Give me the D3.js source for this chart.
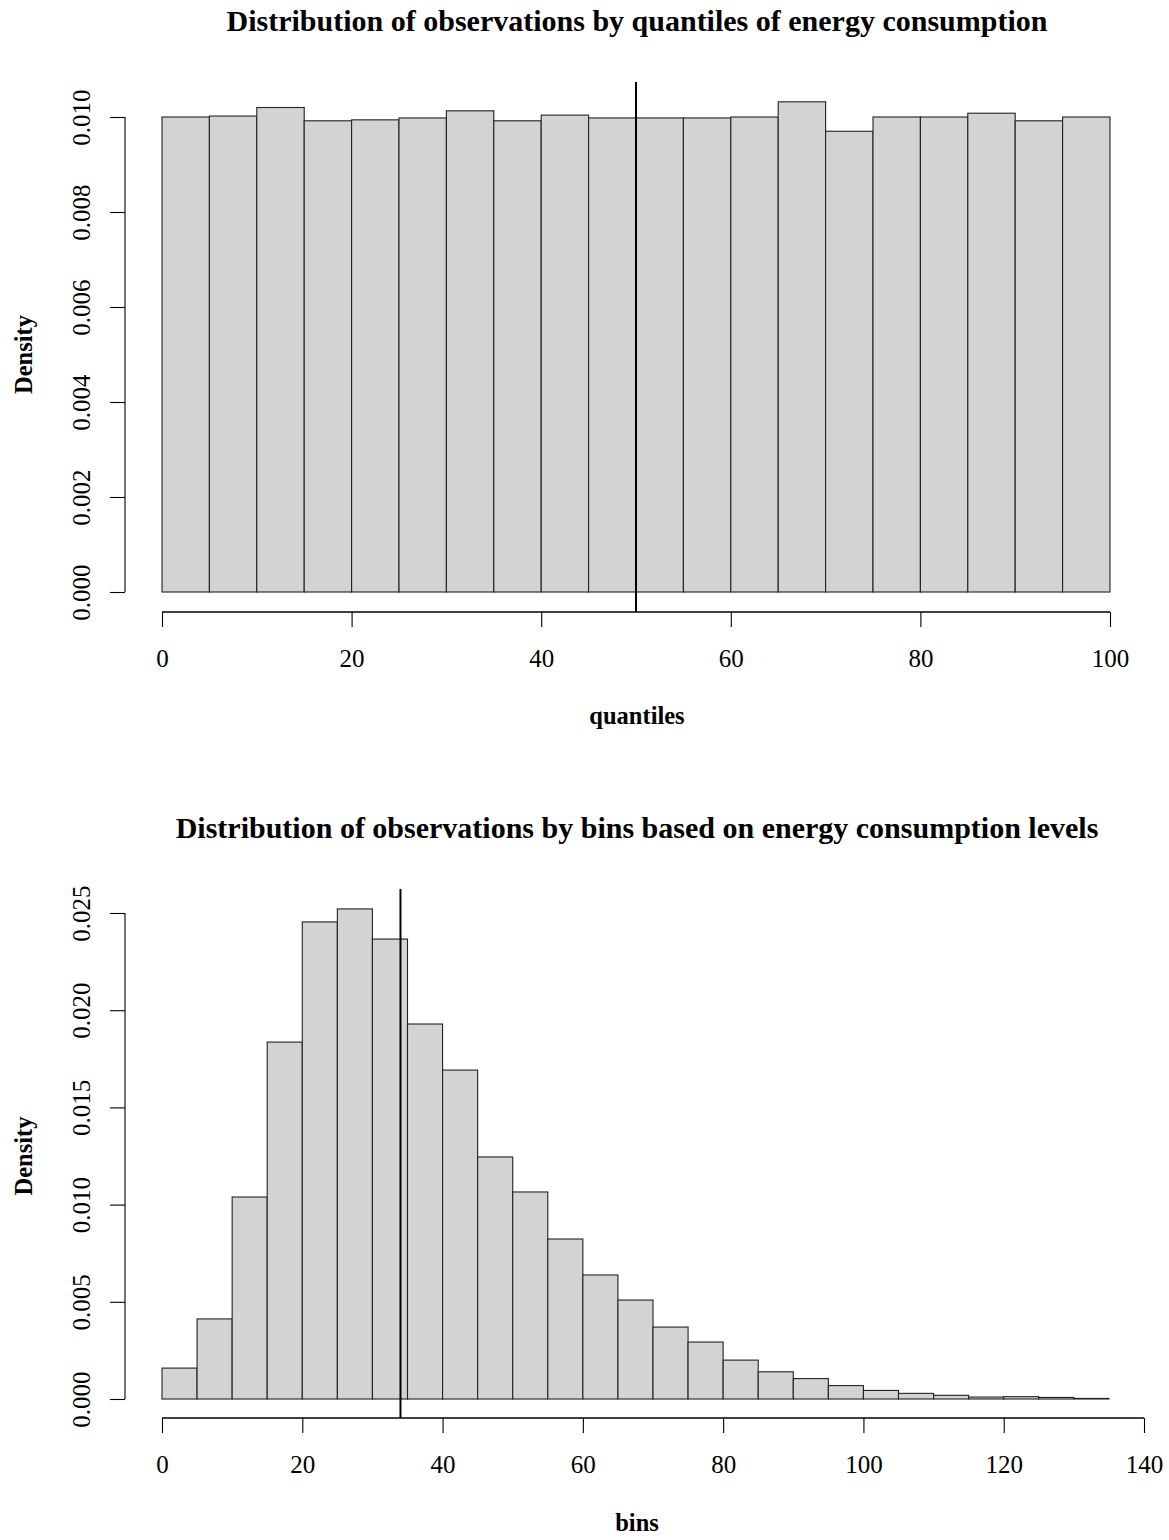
<!DOCTYPE html>
<html>
<head>
<meta charset="utf-8">
<script src="https://cdn.jsdelivr.net/npm/d3@7"></script>
<style>
  body { margin: 0; background: #fff; }
  svg { display: block; }
  text { font-family: "Liberation Serif", "Times New Roman", serif; fill: #000; }
</style>
</head>
<body>
<svg id="chart" width="1169" height="1540"></svg>
<script>
// ---------- Data ----------
const quantileBreaks = [0,5,10,15,20,25,30,35,40,45,50,55,60,65,70,75,80,85,90,95,100];
const quantileDensity = [0.01000,0.01002,0.01020,0.00992,0.00994,0.00998,0.01013,0.00992,0.01004,0.00998,
                         0.00998,0.00998,0.01000,0.01032,0.00970,0.01000,0.01000,0.01008,0.00992,0.01000];
const quantileMarker = 50;
const quantileXTicks = [0,20,40,60,80,100];
const quantileYTicks = [0.000,0.002,0.004,0.006,0.008,0.010];

const binBreaks = [0,5,10,15,20,25,30,35,40,45,50,55,60,65,70,75,80,85,90,95,100,105,110,115,120,125,130,135];
const binDensity = [0.00159,0.00412,0.01039,0.01836,0.02454,0.02521,0.02366,0.01929,0.01692,0.01245,
                    0.01065,0.00823,0.00638,0.00509,0.00370,0.00293,0.00200,0.00140,0.00105,0.00069,
                    0.00044,0.00029,0.00019,0.00010,0.00012,0.00008,0.00003];
const binMarker = 34;
const binXTicks = [0,20,40,60,80,100,120,140];
const binYTicks = [0.000,0.005,0.010,0.015,0.020,0.025];

const svg = d3.select("#chart");
const FONT = '"Liberation Serif", "Times New Roman", serif';

function panel(cfg) {
  const g = svg.append("g");
  const x = d3.scaleLinear().domain(cfg.xDomain).range([162, cfg.xRight]);
  const y = d3.scaleLinear().domain(cfg.yDomain).range([cfg.yBottom, cfg.yTop]);

  const bars = cfg.density.map((d, i) => ({x0: cfg.breaks[i], x1: cfg.breaks[i+1], d}));
  g.selectAll("rect.bar").data(bars).join("rect")
    .attr("class", "bar")
    .attr("x", b => x(b.x0))
    .attr("width", b => x(b.x1) - x(b.x0))
    .attr("y", b => y(b.d))
    .attr("height", b => y(0) - y(b.d))
    .attr("fill", "#d3d3d3")
    .attr("stroke", "#222")
    .attr("stroke-width", 1.1);

  // x axis (R style: detached below)
  const xAxisY = cfg.xAxisY;
  const xa = g.append("g").attr("transform", `translate(0,${xAxisY})`)
    .call(d3.axisBottom(x).tickValues(cfg.xTicks).tickSize(15).tickSizeOuter(0).tickFormat(d3.format("d")));
  xa.select(".domain").attr("stroke", "#000").attr("stroke-width", 1.6)
    .attr("d", `M${x(cfg.xTicks[0])},0H${x(cfg.xTicks[cfg.xTicks.length-1])}`);
  xa.selectAll(".tick line").attr("stroke", "#000").attr("stroke-width", 1.1);
  xa.selectAll(".tick text").attr("font-size", 25).attr("font-family", FONT).attr("fill", "#000")
    .attr("y", 55).attr("dy", null);

  // y axis
  const ya = g.append("g").attr("transform", `translate(125,0)`)
    .call(d3.axisLeft(y).tickValues(cfg.yTicks).tickSize(15).tickSizeOuter(0).tickFormat(d3.format(".3f")));
  ya.select(".domain").attr("stroke", "#000").attr("stroke-width", 1.1)
    .attr("d", `M0,${y(cfg.yTicks[0])}V${y(cfg.yTicks[cfg.yTicks.length-1])}`);
  ya.selectAll(".tick line").attr("stroke", "#000").attr("stroke-width", 1.1);
  ya.selectAll(".tick text")
    .attr("font-size", 25).attr("font-family", FONT).attr("fill", "#000")
    .attr("x", null).attr("dy", null)
    .attr("text-anchor", "middle")
    .attr("transform", "translate(-35,0) rotate(-90)");

  // marker line
  g.append("line")
    .attr("x1", x(cfg.marker)).attr("x2", x(cfg.marker))
    .attr("y1", cfg.markerTop).attr("y2", xAxisY)
    .attr("stroke", "#000").attr("stroke-width", 2);

  // title
  g.append("text").attr("x", 637).attr("y", cfg.titleY)
    .attr("text-anchor", "middle").attr("font-size", 30).attr("font-weight", "bold")
    .text(cfg.title);
  // x label
  g.append("text").attr("x", 637).attr("y", cfg.xLabelY)
    .attr("text-anchor", "middle").attr("font-size", 24.5).attr("font-weight", "bold")
    .text(cfg.xLabel);
  // y label
  g.append("text")
    .attr("transform", `translate(32,${(cfg.yTop + cfg.yBottom)/2}) rotate(-90)`)
    .attr("text-anchor", "middle").attr("font-size", 24.5).attr("font-weight", "bold")
    .text("Density");
}

panel({
  breaks: quantileBreaks, density: quantileDensity, marker: quantileMarker,
  xDomain: [0, 100], xRight: 1110, xTicks: quantileXTicks,
  yDomain: [0, 0.010], yBottom: 592, yTop: 117, yTicks: quantileYTicks,
  xAxisY: 612, markerTop: 82,
  title: "Distribution of observations by quantiles of energy consumption", titleY: 31,
  xLabelY: 724, xLabel: "quantiles"
});

panel({
  breaks: binBreaks, density: binDensity, marker: binMarker,
  xDomain: [0, 140], xRight: 1144, xTicks: binXTicks,
  yDomain: [0, 0.025], yBottom: 1399, yTop: 913, yTicks: binYTicks,
  xAxisY: 1418, markerTop: 889,
  title: "Distribution of observations by bins based on energy consumption levels", titleY: 838,
  xLabelY: 1531, xLabel: "bins"
});
</script>
</body>
</html>
